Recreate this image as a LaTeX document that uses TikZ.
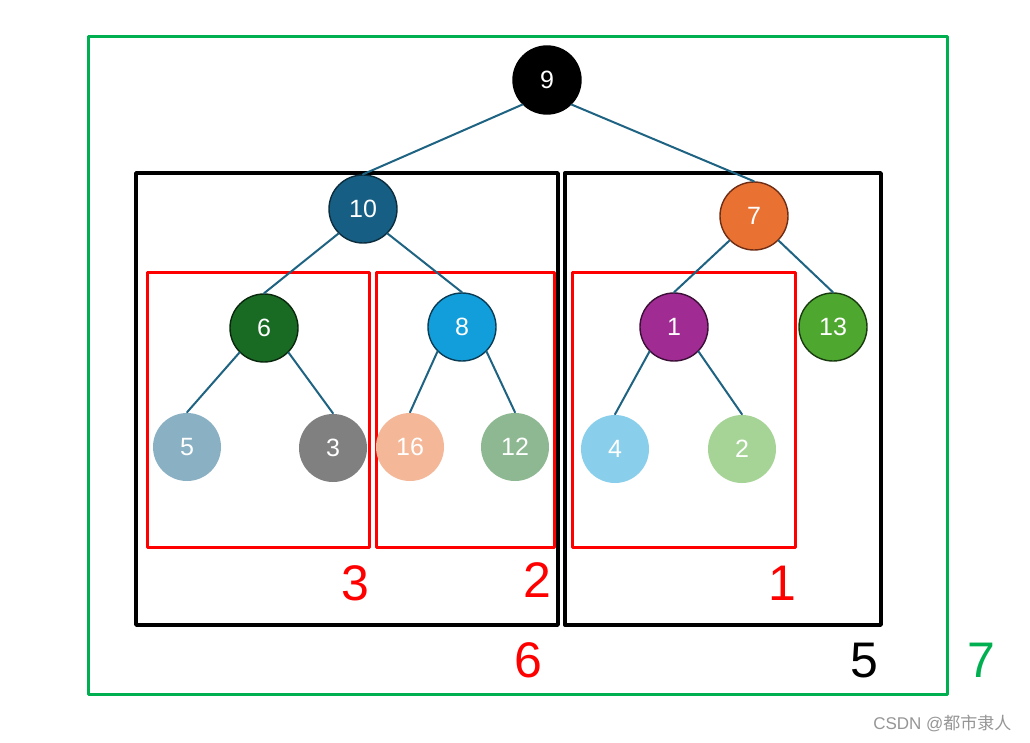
\documentclass[tikz,border=0pt]{standalone}
\usepackage{fontspec}
\setmainfont{Liberation Sans}
\newfontfamily\cjkfont{Noto Sans CJK SC}
\usetikzlibrary{arrows}

\definecolor{edgeblue}{HTML}{1F6383}
\definecolor{boxgreen}{HTML}{00B050}

\tikzset{
  keynode/.style={circle,minimum size=68pt,inner sep=0pt,line width=1.4pt,
    text=white,font=\fontsize{25}{25}\selectfont},
  leafnode/.style={keynode,draw=none},
  treeedge/.style={edgeblue,line width=2pt},
  redbox/.style={red,line width=3pt},
  blackbox/.style={black,line width=3.4pt},
  countlabel/.style={font=\fontsize{50}{50}\selectfont,inner sep=0pt}
}

\begin{document}
\begin{tikzpicture}[line cap=round,line join=round,x=1pt,y=-1pt]
\useasboundingbox (0,0) rectangle (1030,742);
\fill[white] (0,0) rectangle (1030,742);
% frames
\draw[boxgreen,line width=3pt] (88,36) rectangle (947,694);
\draw[blackbox] (136,173) rectangle (558,625);
\draw[blackbox] (565,173) rectangle (881,625);
\draw[redbox] (147,272) rectangle (369,547);
\draw[redbox] (376,272) rectangle (554,547);
\draw[redbox] (572,272) rectangle (795,547);
% nodes
\node[keynode,fill=black,draw=black] (n9) at (547,80) {9};
\node[keynode,fill={rgb,255:red,22;green,94;blue,131},draw={rgb,255:red,12;green,45;blue,62}] (n10) at (363,209) {10};
\node[keynode,fill={rgb,255:red,233;green,113;blue,50},draw={rgb,255:red,110;green,45;blue,20}] (n7) at (754,216) {7};
\node[keynode,fill={rgb,255:red,25;green,107;blue,36},draw={rgb,255:red,10;green,40;blue,14}] (n6) at (264,328) {6};
\node[keynode,fill={rgb,255:red,17;green,158;blue,218},draw={rgb,255:red,10;green,60;blue,85}] (n8) at (462,327) {8};
\node[keynode,fill={rgb,255:red,160;green,43;blue,147},draw={rgb,255:red,60;green,15;blue,55}] (n1) at (674,327) {1};
\node[keynode,fill={rgb,255:red,78;green,167;blue,46},draw={rgb,255:red,25;green,60;blue,15}] (n13) at (833,327) {13};
\node[leafnode,fill={rgb,255:red,138;green,176;blue,196}] (n5) at (187,447) {5};
\node[leafnode,fill={rgb,255:red,128;green,128;blue,128}] (n3) at (333,448) {3};
\node[leafnode,fill={rgb,255:red,244;green,184;blue,152}] (n16) at (410,447) {16};
\node[leafnode,fill={rgb,255:red,141;green,184;blue,145}] (n12) at (515,447) {12};
\node[leafnode,fill={rgb,255:red,137;green,207;blue,235}] (n4) at (615,449) {4};
\node[leafnode,fill={rgb,255:red,166;green,212;blue,151}] (n2) at (742,449) {2};
% edges
\draw[treeedge] (n9.south west) -- (n10.north);
\draw[treeedge] (n9.south east) -- (n7.north);
\draw[treeedge] (n10.south west) -- (n6.north);
\draw[treeedge] (n10.south east) -- (n8.north);
\draw[treeedge] (n7.south west) -- (n1.north);
\draw[treeedge] (n7.south east) -- (n13.north);
\draw[treeedge] (n6.south west) -- (n5.north);
\draw[treeedge] (n6.south east) -- (n3.north);
\draw[treeedge] (n8.south west) -- (n16.north);
\draw[treeedge] (n8.south east) -- (n12.north);
\draw[treeedge] (n1.south west) -- (n4.north);
\draw[treeedge] (n1.south east) -- (n2.north);
% counts
\node[countlabel,text=red] (c3) at (355,583) {3};
\node[countlabel,text=red] (c2) at (537,580) {2};
\node[countlabel,text=red] (c1) at (782,583) {1};
\node[countlabel,text=red] (c6) at (528,660) {6};
\node[countlabel,text=black] (c5) at (864,661) {5};
\node[countlabel,text=boxgreen] (c7) at (981,660) {7};
\node[text={rgb,255:red,150;green,150;blue,150},font=\fontsize{17}{17}\selectfont,anchor=east] (mark) at (1015,723) {CSDN @{\cjkfont 都市隶人}};
\end{tikzpicture}
\end{document}
